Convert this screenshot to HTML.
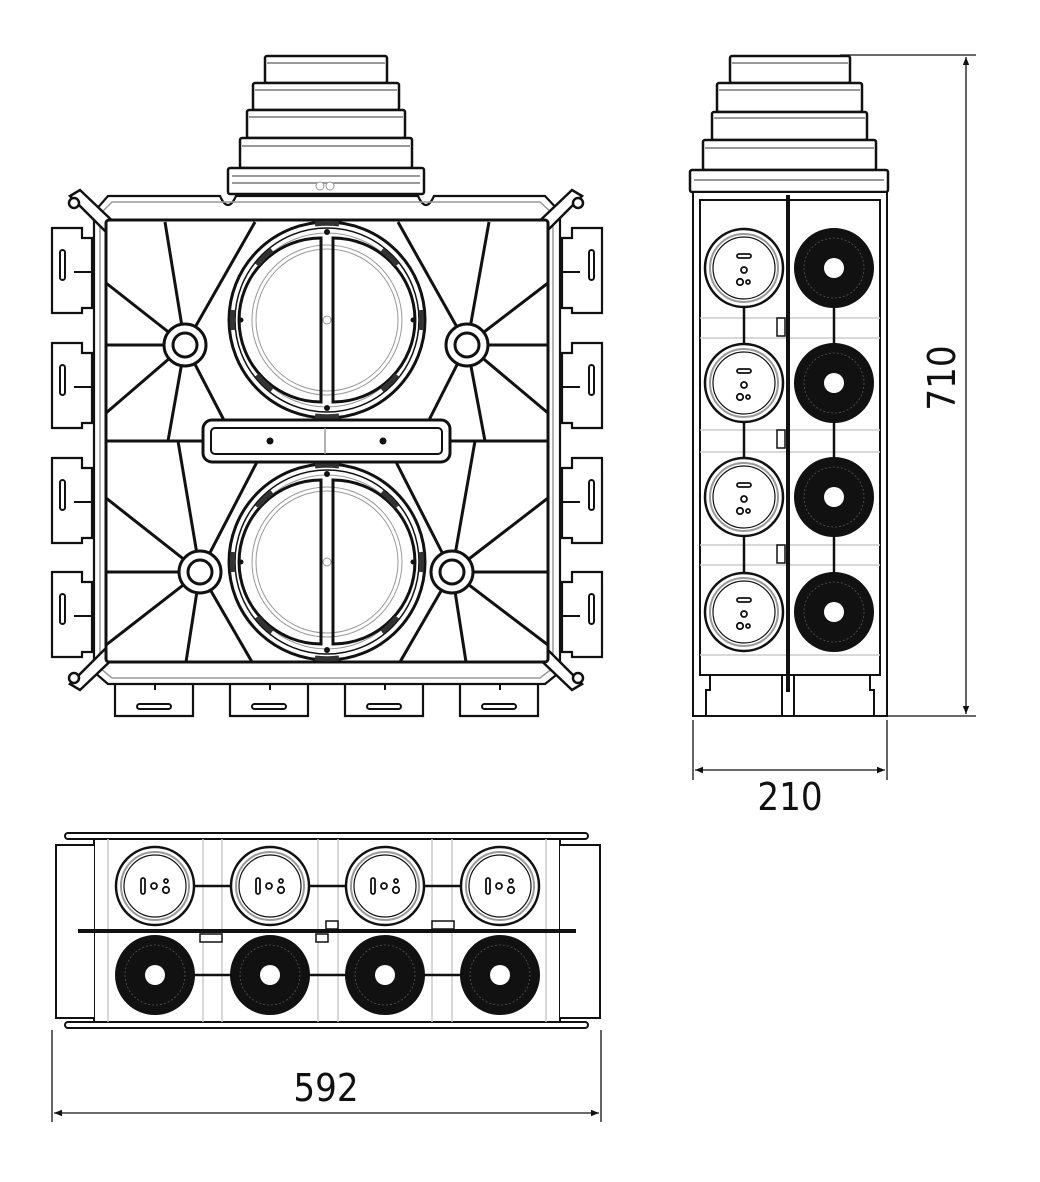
<!DOCTYPE html>
<html><head><meta charset="utf-8"><style>
html,body{margin:0;padding:0;background:#fff}
svg{display:block}
text{font-family:"DejaVu Sans Condensed","Liberation Sans",sans-serif;fill:#111}
</style></head><body>
<svg width="1040" height="1182" viewBox="0 0 1040 1182" xmlns="http://www.w3.org/2000/svg">
<defs>
<marker id="ar" viewBox="0 0 10 10" refX="10" refY="5" markerWidth="14" markerHeight="8" orient="auto-start-reverse" markerUnits="userSpaceOnUse"><path d="M0,1 L10,5 L0,9 z" fill="#111"/></marker>
<g id="wc">
 <circle r="39" fill="#fff" stroke="#111" stroke-width="2.5"/>
 <circle r="34" fill="none" stroke="#999" stroke-width="2"/>
 <circle r="31" fill="none" stroke="#111" stroke-width="1.2"/>
</g>
<g id="bc">
 <circle r="39" fill="#111" stroke="#111" stroke-width="2"/>
 <circle r="30" fill="none" stroke="#555" stroke-width="0.8" stroke-dasharray="2 2"/>
 <circle r="10" fill="#fff"/>
</g>
<g id="tabL">
 <path d="M0,0 H30 V10 H40 V80 H30 V85 H0 Z" fill="#fff" stroke="#111" stroke-width="2.2"/>
 <rect x="8" y="22" width="5" height="30" rx="2.5" fill="none" stroke="#111" stroke-width="2"/>
 <line x1="22" y1="44" x2="40" y2="44" stroke="#111" stroke-width="2"/>
</g>
<g id="tabB">
 <path d="M0,0 H78 V44 H0 Z" fill="#fff" stroke="#111" stroke-width="2.2"/>
 <rect x="22" y="32" width="34" height="5" rx="2.5" fill="none" stroke="#111" stroke-width="2"/>
 <line x1="40" y1="2" x2="40" y2="18" stroke="#111" stroke-width="2"/>
</g>
<g id="boss"><circle r="21" fill="#fff" stroke="#111" stroke-width="3"/><circle r="12" fill="#fff" stroke="#111" stroke-width="3"/></g>
<g id="big">
 <circle r="98" fill="#fff" stroke="#111" stroke-width="3"/>
 <circle r="92" fill="none" stroke="#111" stroke-width="1.5"/>
 <circle r="87" fill="none" stroke="#999" stroke-width="1"/>
 <circle r="75" fill="none" stroke="#999" stroke-width="1"/>
 <circle r="71" fill="none" stroke="#999" stroke-width="1"/>
 <path d="M-6,-82 A82,82 0 0 0 -6,82 Z" fill="none" stroke="#111" stroke-width="3"/>
 <path d="M6,-82 A82,82 0 0 1 6,82 Z" fill="none" stroke="#111" stroke-width="3"/>
 <circle r="4" fill="none" stroke="#999" stroke-width="1"/>
 <circle cy="-88" r="3" fill="#111"/><circle cy="88" r="3" fill="#111"/>
 <circle cx="-86" r="2.5" fill="#111"/><circle cx="86" r="2.5" fill="#111"/>
 <g stroke="#333" stroke-width="5" fill="none">
  <path d="M-70,-55 A89,89 0 0 1 -55,-70"/><path d="M55,-70 A89,89 0 0 1 70,-55"/>
  <path d="M-70,55 A89,89 0 0 0 -55,70"/><path d="M55,70 A89,89 0 0 0 70,55"/>
  <path d="M-94,-10 A94,94 0 0 0 -94,10"/><path d="M94,-10 A94,94 0 0 1 94,10"/>
  <path d="M-12,-96 A96,96 0 0 1 12,-96"/><path d="M-12,96 A96,96 0 0 0 12,96"/>
 </g>
</g>
</defs>

<!-- ===== FRONT VIEW ===== -->
<!-- top stepped connector -->
<g stroke="#111" stroke-width="2.5" fill="#fff">
 <rect x="265" y="56" width="122" height="27" rx="2"/>
 <rect x="253" y="83" width="146" height="27" rx="2"/>
 <rect x="247" y="110" width="158" height="28" rx="2"/>
 <rect x="240" y="138" width="172" height="30" rx="2"/>
 <rect x="228" y="168" width="196" height="26" rx="2"/>
</g>
<g stroke="#999" stroke-width="2">
 <line x1="267" y1="63" x2="385" y2="63"/><line x1="255" y1="90" x2="397" y2="90"/>
 <line x1="249" y1="117" x2="403" y2="117"/><line x1="242" y1="146" x2="410" y2="146"/>
 <line x1="232" y1="176" x2="420" y2="176"/><line x1="232" y1="183" x2="420" y2="183"/>
</g>
<circle cx="320" cy="186" r="4" fill="#fff" stroke="#999"/><circle cx="330" cy="186" r="4" fill="#fff" stroke="#999"/>

<!-- side tabs -->
<use href="#tabL" x="52" y="228"/><use href="#tabL" x="52" y="343"/><use href="#tabL" x="52" y="458"/><use href="#tabL" x="52" y="572"/>
<g transform="translate(602,0) scale(-1,1)">
<use href="#tabL" x="0" y="228"/><use href="#tabL" x="0" y="343"/><use href="#tabL" x="0" y="458"/><use href="#tabL" x="0" y="572"/>
</g>
<!-- bottom tabs -->
<use href="#tabB" x="115" y="672"/><use href="#tabB" x="230" y="672"/><use href="#tabB" x="345" y="672"/><use href="#tabB" x="460" y="672"/>

<!-- outer frame -->
<path d="M108,196 H220 Q228,214 236,196 H418 Q426,214 434,196 H545 L560,212 V672 L545,684 H108 L94,672 V212 Z" fill="#fff" stroke="#111" stroke-width="2.2"/>
<path d="M112,202 H540 L553,214 V668 L540,678 H112 L100,668 V214 Z" fill="none" stroke="#999" stroke-width="1.5"/>
<!-- corner struts -->
<g stroke="#111" stroke-width="2.5" fill="#fff">
 <path d="M70,196 L80,190 L122,230 L112,238 Z"/>
 <path d="M582,196 L572,190 L530,230 L540,238 Z"/>
 <path d="M70,684 L80,690 L122,650 L112,642 Z"/>
 <path d="M582,684 L572,690 L530,650 L540,642 Z"/>
 <circle cx="74" cy="203" r="5"/><circle cx="578" cy="203" r="5"/>
 <circle cx="74" cy="678" r="5"/><circle cx="578" cy="678" r="5"/>
</g>
<!-- inner square -->
<rect x="106" y="220" width="442" height="442" rx="3" fill="#fff" stroke="#111" stroke-width="3"/>
<!-- spokes -->
<g stroke="#111" stroke-width="3" fill="none">
 <line x1="106" y1="441" x2="548" y2="441"/>
 <!-- TL boss 185,345 -->
 <line x1="185" y1="345" x2="165" y2="222"/><line x1="185" y1="345" x2="106" y2="283"/><line x1="185" y1="345" x2="106" y2="345"/>
 <line x1="185" y1="345" x2="106" y2="413"/><line x1="185" y1="345" x2="168" y2="441"/><line x1="185" y1="345" x2="228" y2="428"/><line x1="185" y1="345" x2="255" y2="222"/>
 <!-- TR boss 467,345 -->
 <line x1="467" y1="345" x2="489" y2="222"/><line x1="467" y1="345" x2="548" y2="283"/><line x1="467" y1="345" x2="548" y2="345"/>
 <line x1="467" y1="345" x2="548" y2="413"/><line x1="467" y1="345" x2="485" y2="441"/><line x1="467" y1="345" x2="425" y2="428"/><line x1="467" y1="345" x2="398" y2="222"/>
 <!-- BL boss 200,572 -->
 <line x1="200" y1="572" x2="178" y2="441"/><line x1="200" y1="572" x2="106" y2="498"/><line x1="200" y1="572" x2="106" y2="572"/>
 <line x1="200" y1="572" x2="106" y2="645"/><line x1="200" y1="572" x2="186" y2="662"/><line x1="200" y1="572" x2="252" y2="662"/><line x1="200" y1="572" x2="258" y2="460"/>
 <!-- BR boss 452,572 -->
 <line x1="452" y1="572" x2="475" y2="441"/><line x1="452" y1="572" x2="548" y2="498"/><line x1="452" y1="572" x2="548" y2="572"/>
 <line x1="452" y1="572" x2="548" y2="645"/><line x1="452" y1="572" x2="466" y2="662"/><line x1="452" y1="572" x2="400" y2="662"/><line x1="452" y1="572" x2="395" y2="460"/>
</g>
<use href="#big" x="327" y="320"/>
<use href="#big" x="327" y="562"/>
<use href="#boss" x="185" y="345"/><use href="#boss" x="467" y="345"/>
<use href="#boss" x="200" y="572"/><use href="#boss" x="452" y="572"/>
<!-- center bar -->
<rect x="203" y="420" width="247" height="42" rx="9" fill="#fff" stroke="#111" stroke-width="3"/>
<rect x="211" y="428" width="231" height="26" rx="4" fill="none" stroke="#111" stroke-width="2"/>
<line x1="325" y1="428" x2="325" y2="454" stroke="#999" stroke-width="1.5"/>
<circle cx="270" cy="441" r="3.5" fill="#111"/><circle cx="383" cy="441" r="3.5" fill="#111"/>

<!-- ===== SIDE VIEW ===== -->
<g stroke="#111" stroke-width="2.5" fill="#fff">
 <rect x="730" y="56" width="120" height="27" rx="2"/>
 <rect x="717" y="83" width="145" height="29" rx="2"/>
 <rect x="712" y="112" width="155" height="28" rx="2"/>
 <rect x="703" y="140" width="173" height="30" rx="2"/>
 <rect x="690" y="170" width="198" height="22" rx="2"/>
</g>
<g stroke="#999" stroke-width="2">
 <line x1="732" y1="63" x2="848" y2="63"/><line x1="719" y1="90" x2="860" y2="90"/>
 <line x1="714" y1="118" x2="865" y2="118"/><line x1="705" y1="148" x2="874" y2="148"/>
 <line x1="694" y1="180" x2="884" y2="180"/>
</g>
<rect x="693" y="192" width="194" height="524" fill="#fff" stroke="#111" stroke-width="2"/>
<rect x="700" y="200" width="180" height="475" fill="none" stroke="#111" stroke-width="2"/>
<g stroke="#ccc" stroke-width="1.5">
 <line x1="700" y1="318" x2="880" y2="318"/><line x1="700" y1="338" x2="880" y2="338"/>
 <line x1="700" y1="430" x2="880" y2="430"/><line x1="700" y1="452" x2="880" y2="452"/>
 <line x1="700" y1="545" x2="880" y2="545"/><line x1="700" y1="565" x2="880" y2="565"/>
 <line x1="700" y1="655" x2="880" y2="655"/>
</g>
<path d="M700,675 H710 V690 H706 V716 M880,675 H870 V690 H874 V716 M782,675 V716 M794,675 V716" fill="none" stroke="#111" stroke-width="2"/>
<line x1="788" y1="195" x2="788" y2="692" stroke="#111" stroke-width="4"/>
<g stroke="#111" stroke-width="2.5">
 <line x1="744" y1="268" x2="744" y2="612"/><line x1="834" y1="268" x2="834" y2="612"/>
</g>
<rect x="777" y="318" width="8" height="18" fill="#fff" stroke="#111" stroke-width="1.5"/>
<rect x="777" y="430" width="8" height="18" fill="#fff" stroke="#111" stroke-width="1.5"/>
<rect x="777" y="545" width="8" height="18" fill="#fff" stroke="#111" stroke-width="1.5"/>
<g id="wsv">
<use href="#wc" x="744" y="268"/>
<rect x="737" y="254" width="14" height="4" rx="2" fill="none" stroke="#111" stroke-width="1.8"/>
<circle cx="744" cy="270" r="3" fill="none" stroke="#111" stroke-width="1.8"/>
<circle cx="740" cy="282" r="3.2" fill="none" stroke="#111" stroke-width="1.8"/><circle cx="748" cy="282" r="2" fill="none" stroke="#111" stroke-width="1.8"/>
</g>
<use href="#wsv" y="115"/><use href="#wsv" y="229"/><use href="#wsv" y="344"/>
<use href="#bc" x="834" y="268"/><use href="#bc" x="834" y="383"/><use href="#bc" x="834" y="497"/><use href="#bc" x="834" y="612"/>

<!-- dims side -->
<g stroke="#111" stroke-width="1.3">
 <line x1="840" y1="55" x2="976" y2="55"/><line x1="887" y1="716" x2="976" y2="716"/>
 <line x1="966" y1="57" x2="966" y2="714" marker-start="url(#ar)" marker-end="url(#ar)"/>
 <line x1="693" y1="720" x2="693" y2="780"/><line x1="887" y1="720" x2="887" y2="780"/>
 <line x1="695" y1="770" x2="885" y2="770" marker-start="url(#ar)" marker-end="url(#ar)"/>
</g>
<text x="790" y="810" font-size="38" text-anchor="middle">210</text>
<text transform="translate(955,378) rotate(-90)" font-size="38" text-anchor="middle">710</text>

<!-- ===== BOTTOM VIEW ===== -->
<rect x="65" y="833" width="523" height="6" rx="3" fill="#fff" stroke="#111" stroke-width="2"/>
<rect x="65" y="1022" width="523" height="6" rx="3" fill="#fff" stroke="#111" stroke-width="2"/>
<rect x="94" y="839" width="466" height="183" fill="#fff" stroke="#111" stroke-width="2"/>
<g fill="#fff" stroke="#111" stroke-width="2">
 <path d="M94,845 H56 V1018 H94"/><path d="M560,845 H600 V1018 H560"/>
</g>
<g stroke="#ccc" stroke-width="1.5">
 <line x1="108" y1="839" x2="108" y2="1022"/><line x1="203" y1="839" x2="203" y2="1022"/><line x1="222" y1="839" x2="222" y2="1022"/>
 <line x1="318" y1="839" x2="318" y2="1022"/><line x1="338" y1="839" x2="338" y2="1022"/>
 <line x1="432" y1="839" x2="432" y2="1022"/><line x1="452" y1="839" x2="452" y2="1022"/><line x1="546" y1="839" x2="546" y2="1022"/>
</g>
<line x1="78" y1="931" x2="576" y2="931" stroke="#111" stroke-width="4"/>
<g stroke="#111" stroke-width="2.5">
 <line x1="155" y1="886" x2="500" y2="886"/><line x1="155" y1="975" x2="500" y2="975"/>
</g>
<rect x="200" y="934" width="22" height="8" fill="#fff" stroke="#111" stroke-width="1.5"/>
<rect x="316" y="934" width="12" height="8" fill="#fff" stroke="#111" stroke-width="1.5"/>
<rect x="326" y="921" width="12" height="8" fill="#fff" stroke="#111" stroke-width="1.5"/>
<rect x="432" y="921" width="22" height="8" fill="#fff" stroke="#111" stroke-width="1.5"/>
<g id="wbv">
<use href="#wc" x="155" y="886"/>
<rect x="141" y="878" width="4" height="16" rx="2" fill="none" stroke="#111" stroke-width="1.8"/>
<circle cx="154" cy="886" r="3" fill="none" stroke="#111" stroke-width="1.8"/>
<circle cx="166" cy="890" r="3.2" fill="none" stroke="#111" stroke-width="1.8"/><circle cx="166" cy="881" r="2" fill="none" stroke="#111" stroke-width="1.8"/>
</g>
<use href="#wbv" x="115"/><use href="#wbv" x="230"/><use href="#wbv" x="345"/>
<use href="#bc" x="155" y="975"/><use href="#bc" x="270" y="975"/><use href="#bc" x="385" y="975"/><use href="#bc" x="500" y="975"/>

<!-- dims bottom -->
<g stroke="#111" stroke-width="1.3">
 <line x1="52" y1="1030" x2="52" y2="1122"/><line x1="601" y1="1030" x2="601" y2="1122"/>
 <line x1="54" y1="1113" x2="599" y2="1113" marker-start="url(#ar)" marker-end="url(#ar)"/>
</g>
<text x="326" y="1101" font-size="38" text-anchor="middle">592</text>
</svg>
</body></html>
